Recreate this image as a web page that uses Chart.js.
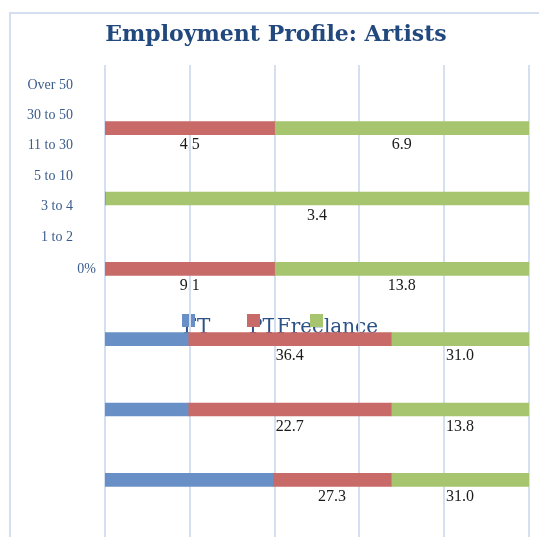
<!DOCTYPE html>
<html>
<head>
<meta charset="utf-8">
<title>Employment Profile: Artists</title>
<script src="https://cdn.jsdelivr.net/npm/chart.js@4.4.1/dist/chart.umd.min.js"></script>
<style>
    html, body { margin: 0; background: #fff; overflow: hidden; }
    #wrap { position: relative; width: 539px; height: 537px; }
</style>
</head>
<body>
<div id="wrap"><canvas id="artistsChart"></canvas></div>
<script>
// Chart data
const categories = ['Over 50', '30 to 50', '11 to 30', '5 to 10', '3 to 4', '1 to 2'];
const seriesNames = ['FT', 'PT', 'Freelance'];

// share of each bar (percent of the 100% axis)
const ftShare = [0, 0, 0, 19.6, 19.6, 39.6];
const ptShare = [40, 0, 40, 47.9, 47.9, 27.9];
const freelanceShare = [60, 100, 60, 32.5, 32.5, 32.5];

// printed value labels under each segment
const ptLabels = ['4.5', '', '9.1', '36.4', '22.7', '27.3'];
const freelanceLabels = ['6.9', '3.4', '13.8', '31.0', '13.8', '31.0'];

const gridSteps = [0, 20, 40, 60, 80, 100];
const axisStartLabel = '0%';

const colors = ['#6990C6', '#C86A67', '#A7C46F'];
const gridColor = '#D4E0F1';
const serif = '"DejaVu Serif", serif';
const narrowSerif = '"Liberation Serif", serif';

// Plugin: frame, legend, labels and extended grid lines
const artistsDecor = {
    id: 'artistsDecor',
    beforeDraw(chart) {
        const ctx = chart.ctx;
        ctx.save();
        ctx.strokeStyle = gridColor;
        ctx.lineWidth = 2;
        ctx.beginPath();
        ctx.moveTo(10, chart.height);
        ctx.lineTo(10, 13);
        ctx.lineTo(chart.width, 13);
        ctx.stroke();

        // title
        ctx.fillStyle = '#22497E';
        ctx.font = 'bold 22px ' + serif;
        ctx.textAlign = 'center';
        ctx.textBaseline = 'alphabetic';
        ctx.fillText('Employment Profile: Artists', 276, 41);

        // category labels (they sit in the upper part of the plot)
        ctx.fillStyle = '#3A5C8C';
        ctx.font = '14px ' + narrowSerif;
        ctx.textAlign = 'right';
        ctx.textBaseline = 'middle';
        categories.forEach((cat, i) => {
            ctx.fillText(cat, 73, 85 + i * 30.4);
        });
        const yScale = chart.scales.y;
        ctx.fillText(axisStartLabel, 96, yScale.getPixelForValue(2));
        ctx.restore();
    },
    beforeDatasetsDraw(chart) {
        const ctx = chart.ctx;
        const area = chart.chartArea;
        const xScale = chart.scales.x;
        ctx.save();

        // legend text then boxes
        ctx.fillStyle = '#2C5287';
        ctx.font = '20px ' + serif;
        ctx.textAlign = 'left';
        ctx.textBaseline = 'alphabetic';
        ctx.fillText(seriesNames[0], 183, 333);
        ctx.fillText(seriesNames[1], 249, 333);
        ctx.fillText(seriesNames[2], 250 + ctx.measureText(seriesNames[1]).width, 333);
        [182, 247, 310].forEach((bx, i) => {
            ctx.fillStyle = colors[i];
            ctx.fillRect(bx, 314, 13, 13);
        });

        // value labels under the segments
        const meta1 = chart.getDatasetMeta(1);
        const meta2 = chart.getDatasetMeta(2);
        ctx.fillStyle = '#1A1A1A';
        ctx.font = '16px ' + narrowSerif;
        ctx.textAlign = 'center';
        ctx.textBaseline = 'middle';
        [[meta1, ptLabels], [meta2, freelanceLabels]].forEach(([meta, labels]) => {
            meta.data.forEach((bar, i) => {
                if (!labels[i]) return;
                const p = bar.getProps(['x', 'y', 'base'], true);
                ctx.fillText(labels[i], (p.x + p.base) / 2, p.y + 17);
            });
        });

        // vertical grid lines, running past the plot area
        ctx.strokeStyle = gridColor;
        ctx.lineWidth = 2;
        gridSteps.forEach(v => {
            const x = Math.round(xScale.getPixelForValue(v));
            ctx.beginPath();
            ctx.moveTo(x, area.top - 28);
            ctx.lineTo(x, chart.height);
            ctx.stroke();
        });
        ctx.restore();
    }
};

new Chart(document.getElementById('artistsChart'), {
    type: 'bar',
    data: {
        labels: categories,
        datasets: [
            { label: seriesNames[0], data: ftShare, backgroundColor: colors[0] },
            { label: seriesNames[1], data: ptShare, backgroundColor: colors[1] },
            { label: seriesNames[2], data: freelanceShare, backgroundColor: colors[2] }
        ]
    },
    options: {
        indexAxis: 'y',
        responsive: true,
        maintainAspectRatio: false,
        animation: false,
        datasets: { bar: { barThickness: 13, borderWidth: 0 } },
        layout: { padding: { left: 105, right: 10, top: 93, bottom: 22 } },
        scales: {
            x: { stacked: true, min: 0, max: 100, display: false },
            y: { stacked: true, display: false }
        },
        plugins: {
            legend: { display: false },
            tooltip: { enabled: false }
        }
    },
    plugins: [artistsDecor]
});
</script>
</body>
</html>
